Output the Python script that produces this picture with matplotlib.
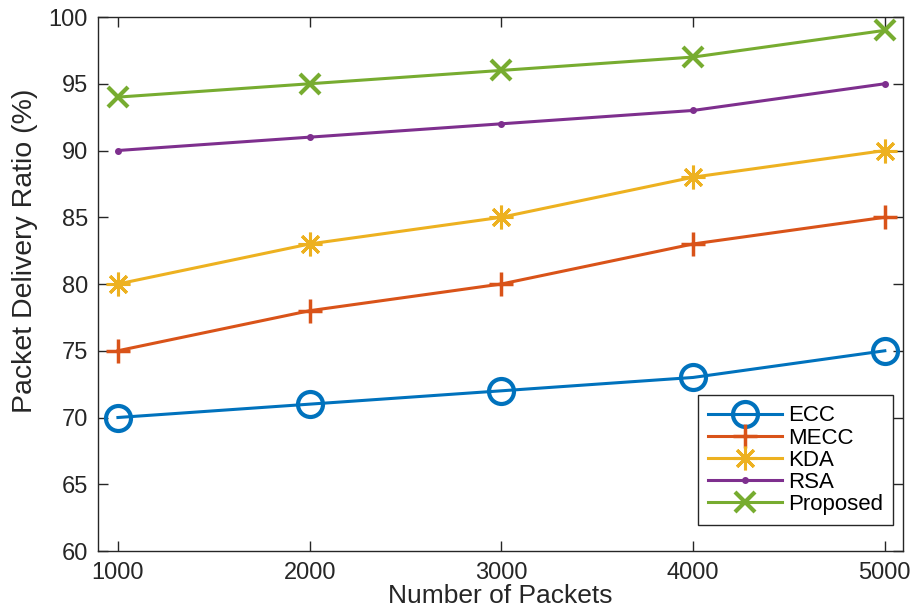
import matplotlib
matplotlib.use("Agg")
from matplotlib import pyplot as plt

plt.rcParams['font.family'] = ['Liberation Sans', 'DejaVu Sans']

packets = [1000, 2000, 3000, 4000, 5000]
ecc = [70, 71, 72, 73, 75]
mecc = [75, 78, 80, 83, 85]
kda = [80, 83, 85, 88, 90]
rsa = [90, 91, 92, 93, 95]
proposed = [94, 95, 96, 97, 99]

fig = plt.figure(figsize=(9.14, 6.14), dpi=100)
ax = fig.add_axes([0.107, 0.1026, 0.881, 0.8697])

lw = 2.2
ax.plot(packets, ecc, color='#0072BD', lw=lw, marker='o', ms=18, mfc='none', mew=3, label='ECC')
ax.plot(packets, mecc, color='#D95319', lw=lw, marker='+', ms=17, mew=2.5, label='MECC')
ax.plot(packets, kda, color='#EDB120', lw=lw, marker=(8, 2, 0), ms=17, mew=2.2, label='KDA')
ax.plot(packets, rsa, color='#7E2F8E', lw=lw, marker='.', ms=8, label='RSA')
ax.plot(packets, proposed, color='#77AC30', lw=lw, marker='x', ms=14, mew=3, label='Proposed')

ax.set_xlim(895, 5095)
ax.set_ylim(60, 100)
ax.set_xticks(packets)
ax.set_yticks(range(60, 101, 5))
ax.tick_params(direction='in', top=True, right=True, length=7, width=1, colors='#262626',
               labelsize=17)
ax.tick_params(axis='y', pad=7)
ax.tick_params(axis='x', pad=8)
for s in ax.spines.values():
    s.set_color('#262626')
    s.set_linewidth(1)

ax.set_xlabel('Number of Packets', fontsize=19, color='#262626', labelpad=0)
ax.set_ylabel('Packet Delivery Ratio (%)', fontsize=20.5, color='#262626')
ax.yaxis.set_label_coords(-0.074, 0.562)

leg = ax.legend(loc='lower right', bbox_to_anchor=(0.988, 0.049), fontsize=16,
                fancybox=False, framealpha=1, edgecolor='#262626', handlelength=3.3,
                borderpad=0.45, labelspacing=0.05, handletextpad=0.3, borderaxespad=0)
leg.get_frame().set_linewidth(1)

fig.savefig('out.png', dpi=100)
